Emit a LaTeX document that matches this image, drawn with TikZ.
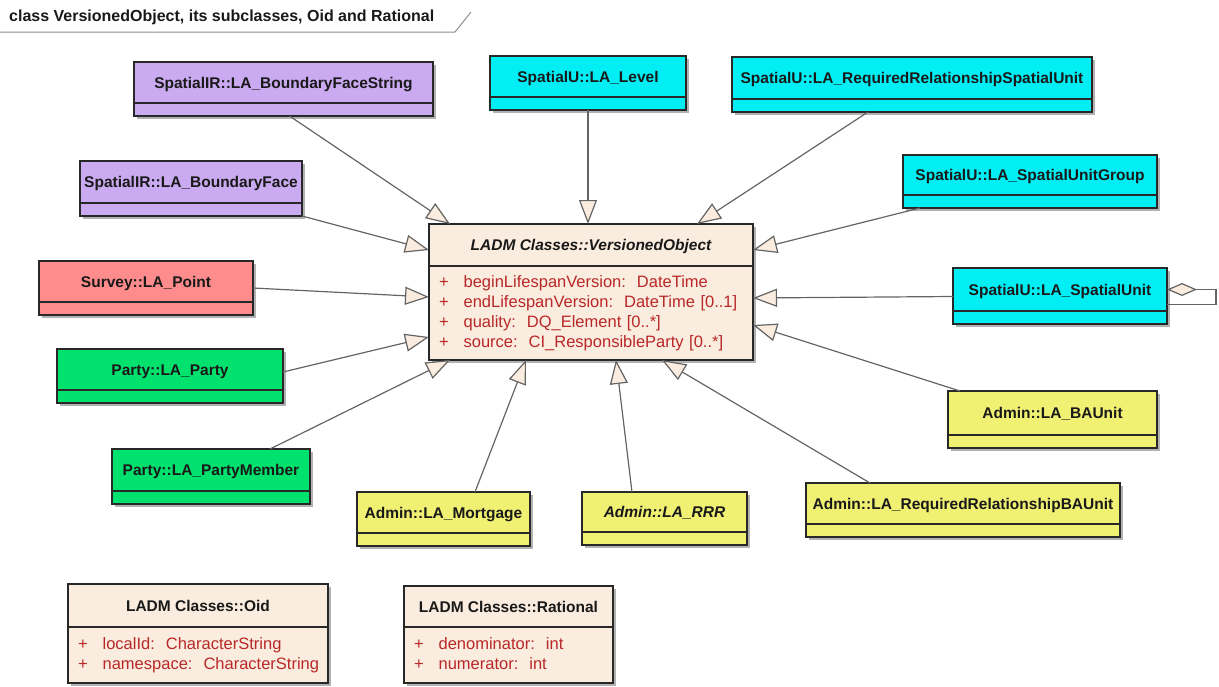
\documentclass[tikz,border=0pt]{standalone}
\usepackage{fontspec}
\setmainfont{Liberation Sans}
\usetikzlibrary{positioning, arrows.meta, shadows}
\definecolor{boxline}{RGB}{40,40,40}
\definecolor{headtext}{RGB}{25,25,25}
\definecolor{attrred}{RGB}{185,40,40}
\definecolor{linegrey}{RGB}{100,100,100}
\definecolor{framegrey}{RGB}{140,140,140}
\definecolor{vobeige}{RGB}{250,236,222}
\definecolor{spatialir}{RGB}{202,170,240}
\definecolor{spatialu}{RGB}{0,238,244}
\definecolor{survey}{RGB}{255,140,140}
\definecolor{party}{RGB}{0,225,110}
\definecolor{admin}{RGB}{240,240,115}

\begin{document}
\begin{tikzpicture}[x=1pt, y=-1pt,
    khead/.style={draw=boxline, line width=1.1pt, outer sep=0pt, anchor=north west, inner xsep=0pt,
        font=\fontsize{15.5}{19}\selectfont\bfseries, text=headtext, text height=11.3pt, text depth=0pt,
        drop shadow={shadow xshift=2.5pt, shadow yshift=-2.5pt, fill=black, opacity=.3}},
    kbody/.style={draw=boxline, line width=1.1pt, outer sep=0pt, below=0pt of #1, minimum height=13pt,
        inner xsep=10pt, inner ysep=0pt,
        drop shadow={shadow xshift=2.5pt, shadow yshift=-2.5pt, fill=black, opacity=.3}},
    kattr/.style={kbody=#1, align=left, inner ysep=7pt, font=\fontsize{16.5}{20}\selectfont, text=attrred},
    gen/.style={draw=linegrey, line width=1.2pt, -{Triangle[fill=vobeige, length=24pt, width=18pt]}},
    agg/.style={draw=linegrey, line width=1.2pt, {Diamond[fill=vobeige, length=30pt, width=13pt]}-},
    frame/.style={draw=framegrey, line width=1pt}]
    \useasboundingbox (0,0) rectangle (1219,686);

    % diagram frame
    \node[anchor=base west, inner sep=0pt, font=\fontsize{16}{19}\selectfont\bfseries, text=headtext] (ttl) at (9,21) {class VersionedObject, its subclasses, Oid and Rational};
    \draw[frame] (0,32) -- (455,32) -- (471,12);

    % central class
    \node[khead, fill=vobeige, minimum width=324pt, minimum height=42pt] (vo) at (429,224) {\itshape LADM Classes::VersionedObject};
    \node[kattr=vo, fill=vobeige, text width=304pt] (vo-b) {\begin{tabular}{@{}l@{\hspace{15pt}}l@{}}
        + & beginLifespanVersion:~~DateTime\\
        + & endLifespanVersion:~~DateTime [0..1]\\
        + & quality:~~DQ\_Element [0..*]\\
        + & source:~~CI\_ResponsibleParty [0..*]
        \end{tabular}};

    % subclasses
    \node[khead, fill=spatialir, minimum width=299pt, minimum height=41pt] (bfs) at (134,62) {SpatialIR::LA\_BoundaryFaceString};
    \node[kbody=bfs, fill=spatialir, minimum width=299pt] (bfs-b) {};
    \node[khead, fill=spatialu, minimum width=196pt, minimum height=41pt] (lvl) at (490,56) {SpatialU::LA\_Level};
    \node[kbody=lvl, fill=spatialu, minimum width=196pt] (lvl-b) {};
    \node[khead, fill=spatialu, minimum width=360pt, minimum height=42pt] (rrsu) at (732,57) {SpatialU::LA\_RequiredRelationshipSpatialUnit};
    \node[kbody=rrsu, fill=spatialu, minimum width=360pt] (rrsu-b) {};
    \node[khead, fill=spatialir, minimum width=222pt, minimum height=42pt] (bf) at (80,161) {SpatialIR::LA\_BoundaryFace};
    \node[kbody=bf, fill=spatialir, minimum width=222pt] (bf-b) {};
    \node[khead, fill=spatialu, minimum width=254pt, minimum height=40pt] (sug) at (903,155) {SpatialU::LA\_SpatialUnitGroup};
    \node[kbody=sug, fill=spatialu, minimum width=254pt] (sug-b) {};
    \node[khead, fill=survey, minimum width=214pt, minimum height=41pt] (pt) at (39,261) {Survey::LA\_Point};
    \node[kbody=pt, fill=survey, minimum width=214pt] (pt-b) {};
    \node[khead, fill=spatialu, minimum width=214pt, minimum height=43pt] (su) at (953,268) {SpatialU::LA\_SpatialUnit};
    \node[kbody=su, fill=spatialu, minimum width=214pt] (su-b) {};
    \node[khead, fill=party, minimum width=226pt, minimum height=41pt] (party) at (57,349) {Party::LA\_Party};
    \node[kbody=party, fill=party, minimum width=226pt] (party-b) {};
    \node[khead, fill=admin, minimum width=209pt, minimum height=44pt] (bau) at (948,391) {Admin::LA\_BAUnit};
    \node[kbody=bau, fill=admin, minimum width=209pt] (bau-b) {};
    \node[khead, fill=party, minimum width=198pt, minimum height=42pt] (pm) at (112,449) {Party::LA\_PartyMember};
    \node[kbody=pm, fill=party, minimum width=198pt] (pm-b) {};
    \node[khead, fill=admin, minimum width=173pt, minimum height=41pt] (mort) at (357,492) {Admin::LA\_Mortgage};
    \node[kbody=mort, fill=admin, minimum width=173pt] (mort-b) {};
    \node[khead, fill=admin, minimum width=165pt, minimum height=40pt] (rrr) at (582,492) {\itshape Admin::LA\_RRR};
    \node[kbody=rrr, fill=admin, minimum width=165pt] (rrr-b) {};
    \node[khead, fill=admin, minimum width=314pt, minimum height=41pt] (rrba) at (806,483) {Admin::LA\_RequiredRelationshipBAUnit};
    \node[kbody=rrba, fill=admin, minimum width=314pt] (rrba-b) {};

    % Oid and Rational
    \node[khead, fill=vobeige, minimum width=260pt, minimum height=43pt] (oid) at (68,584) {LADM Classes::Oid};
    \node[kattr=oid, fill=vobeige, text width=240pt, inner ysep=8pt] (oid-b) {\begin{tabular}{@{}l@{\hspace{15pt}}l@{}}
        + & localId:~~CharacterString\\
        + & namespace:~~CharacterString
        \end{tabular}};
    \node[khead, fill=vobeige, minimum width=209pt, minimum height=41pt] (rat) at (404,586) {LADM Classes::Rational};
    \node[kattr=rat, fill=vobeige, text width=189pt, inner ysep=8pt] (rat-b) {\begin{tabular}{@{}l@{\hspace{15pt}}l@{}}
        + & denominator:~~int\\
        + & numerator:~~int
        \end{tabular}};

    % generalizations
    \draw[gen] ([xshift=6pt]bfs-b.south) -- ([xshift=21pt]vo.north west);
    \draw[gen] (lvl-b.south) -- (lvl-b.south |- vo.north);
    \draw[gen] ([xshift=-44pt]rrsu-b.south) -- ([xshift=-56pt]vo.north east);
    \draw[gen] (bf-b.south east) -- ([yshift=-5pt]vo.west);
    \draw[gen] ([xshift=17pt]sug-b.south west) -- ([yshift=-5pt]vo.east);
    \draw[gen] ([yshift=-6.5pt]pt.east) -- ([yshift=16pt]vo-b.west);
    \draw[gen] ([yshift=-7pt]su.west) -- ([yshift=15pt]vo-b.east);
    \draw[gen] ([yshift=-2.5pt]party.east) -- ([yshift=-24pt]vo-b.west);
    \draw[gen] ([xshift=12pt]bau.north west) -- ([yshift=35pt]vo-b.south east);
    \draw[gen] ([xshift=59pt]pm.north) -- ([xshift=21pt]vo-b.south west);
    \draw[gen] ([xshift=31.5pt]mort.north) -- ([xshift=97pt]vo-b.south west);
    \draw[gen] ([xshift=-32.5pt]rrr.north) -- ([xshift=187pt]vo-b.south west);
    \draw[gen] ([xshift=-93pt]rrba.north) -- ([xshift=-91pt]vo-b.south east);

    % self aggregation
    \draw[agg] (su.east) -- ++(49,0) |- ([yshift=-15pt]su.east);
\end{tikzpicture}
\end{document}
